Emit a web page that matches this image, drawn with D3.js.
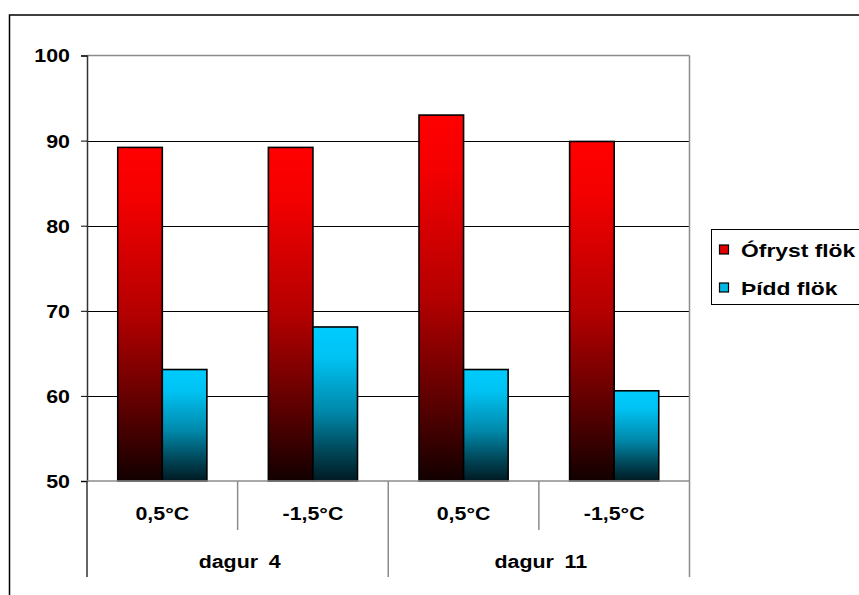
<!DOCTYPE html>
<html>
<head>
<meta charset="utf-8">
<script src="https://cdn.jsdelivr.net/npm/d3@7"></script>
<style>
  html, body { margin: 0; padding: 0; background: #fff; }
  svg { display: block; }
  text { font-family: "Liberation Sans", Arial, sans-serif; font-weight: bold; fill: #000; }
</style>
</head>
<body>
<svg id="chart" width="859" height="595"></svg>
<script>
// Day groups and the temperature under each bar pair
const days = ["dagur 4", "dagur 11"];
const temps = ["0,5°C", "-1,5°C", "0,5°C", "-1,5°C"];
const seriesNames = ["Ófryst flök", "Þídd flök"];
const unfrozen = [89.2, 89.2, 93.0, 89.9];
const thawed = [63.1, 68.1, 63.1, 60.6];
const yTicks = [50, 60, 70, 80, 90, 100];

const svg = d3.select("#chart");
const FS = 17.8, SX = 1.2;   // font size and horizontal stretch of labels

const plot = { left: 87, right: 689.5, top: 55.5, bottom: 481 };

// gradients: bright at the top of each bar, fading to near black at its base
const defs = svg.append("defs");
const grads = [
  { id: "gRed", stops: [[0, "#ff0000"], [0.15, "#f40000"], [0.5, "#b40000"], [0.8, "#560000"], [1, "#120000"]] },
  { id: "gCyan", stops: [[0, "#00ccff"], [0.2, "#00c2f2"], [0.55, "#0088aa"], [0.8, "#00485a"], [1, "#001a22"]] }
];
grads.forEach(g => {
  const lg = defs.append("linearGradient").attr("id", g.id)
    .attr("x1", 0).attr("y1", 0).attr("x2", 0).attr("y2", 1);
  g.stops.forEach(s => lg.append("stop").attr("offset", s[0]).attr("stop-color", s[1]));
});
const fills = ["url(#gRed)", "url(#gCyan)"];
const swatchFills = ["#e00000", "#00b8e6"];

// outer frame
svg.append("rect").attr("x", 9.5).attr("y", 15).attr("width", 870).attr("height", 600)
  .attr("fill", "none").attr("stroke", "#000").attr("stroke-width", 1.5);

const y = d3.scaleLinear().domain([50, 100]).range([plot.bottom, plot.top]);
const x0 = d3.scaleBand().domain(d3.range(temps.length)).range([plot.left, plot.right]).padding(0);
const x1 = d3.scaleBand().domain([0, 1]).range([0, x0.bandwidth()]).paddingInner(0).paddingOuter(0.69);

// gridlines
svg.append("g").selectAll("line").data(yTicks.filter(t => t > 50 && t < 100)).join("line")
  .attr("x1", plot.left).attr("x2", plot.right)
  .attr("y1", d => Math.round(y(d)) + 0.5).attr("y2", d => Math.round(y(d)) + 0.5)
  .attr("stroke", "#000").attr("stroke-width", 1);
// top edge of plot area
svg.append("line").attr("x1", plot.left).attr("x2", plot.right).attr("y1", plot.top).attr("y2", plot.top)
  .attr("stroke", "#8c8c8c").attr("stroke-width", 1.5);

// bars
const rows = temps.map((t, i) => [unfrozen[i], thawed[i]]);
const groups = svg.append("g").selectAll("g").data(rows).join("g")
  .attr("transform", (d, i) => `translate(${x0(i)},0)`);
groups.selectAll("rect").data(d => d.map((v, s) => ({ v, s }))).join("rect")
  .attr("x", d => x1(d.s)).attr("width", x1.bandwidth())
  .attr("y", d => y(d.v)).attr("height", d => y(50) - y(d.v))
  .attr("fill", d => fills[d.s]).attr("stroke", "#000").attr("stroke-width", 1.6);

// y axis
const yAxis = d3.axisLeft(y).tickValues(yTicks).tickSize(6).tickFormat(d3.format("d"));
const ya = svg.append("g").attr("transform", `translate(${plot.left},0)`).call(yAxis);
ya.select(".domain").attr("stroke", "#333").attr("stroke-width", 1.5);
ya.selectAll(".tick line").attr("stroke", "#000");
ya.selectAll(".tick text").remove();
ya.selectAll(".tick").append("text")
  .attr("text-anchor", "end").attr("dy", "0.36em")
  .attr("transform", `translate(-17,0) scale(${SX},1)`)
  .style("font-size", FS + "px").text(d => d);

// category axis: baseline, dividers, labels
const gray = "#8c8c8c";
svg.append("line").attr("x1", plot.left).attr("x2", plot.right).attr("y1", plot.bottom).attr("y2", plot.bottom)
  .attr("stroke", gray).attr("stroke-width", 1.5);
const dividers = d3.range(temps.length + 1).map(i => ({
  x: i < temps.length ? x0(i) : plot.right,
  long: i % 2 === 0
}));
svg.append("g").selectAll("line").data(dividers).join("line")
  .attr("x1", d => d.x).attr("x2", d => d.x)
  .attr("y1", (d, i) => (i === temps.length ? plot.top : plot.bottom))
  .attr("y2", d => d.long ? 577 : 530)
  .attr("stroke", (d, i) => i === 0 ? "#333" : gray).attr("stroke-width", 1.5);

svg.append("g").selectAll("text").data(temps).join("text")
  .attr("text-anchor", "middle")
  .attr("transform", (d, i) => `translate(${x0(i) + x0.bandwidth() / 2},519.5) scale(${SX},1)`)
  .style("font-size", FS + "px").text(d => d);

svg.append("g").selectAll("text").data(days).join("text")
  .attr("text-anchor", "middle")
  .attr("transform", (d, i) => `translate(${x0(i * 2) + x0.bandwidth() + 2},568) scale(${SX},1)`)
  .style("font-size", FS + "px").style("word-spacing", "4px").text(d => d);

// legend
const leg = svg.append("g");
leg.append("rect").attr("x", 711.5).attr("y", 229.5).attr("width", 160).attr("height", 75)
  .attr("fill", "#fff").attr("stroke", "#000").attr("stroke-width", 1);
const items = leg.selectAll("g").data(seriesNames).join("g")
  .attr("transform", (d, i) => `translate(0,${i * 38})`);
items.append("rect").attr("x", 719.5).attr("y", 245).attr("width", 9).attr("height", 9)
  .attr("fill", (d, i) => swatchFills[i]).attr("stroke", "#000").attr("stroke-width", 1.2);
items.append("text")
  .attr("transform", `translate(741,256.5) scale(1.27,1)`)
  .style("font-size", "18px").text(d => d);
</script>
</body>
</html>
